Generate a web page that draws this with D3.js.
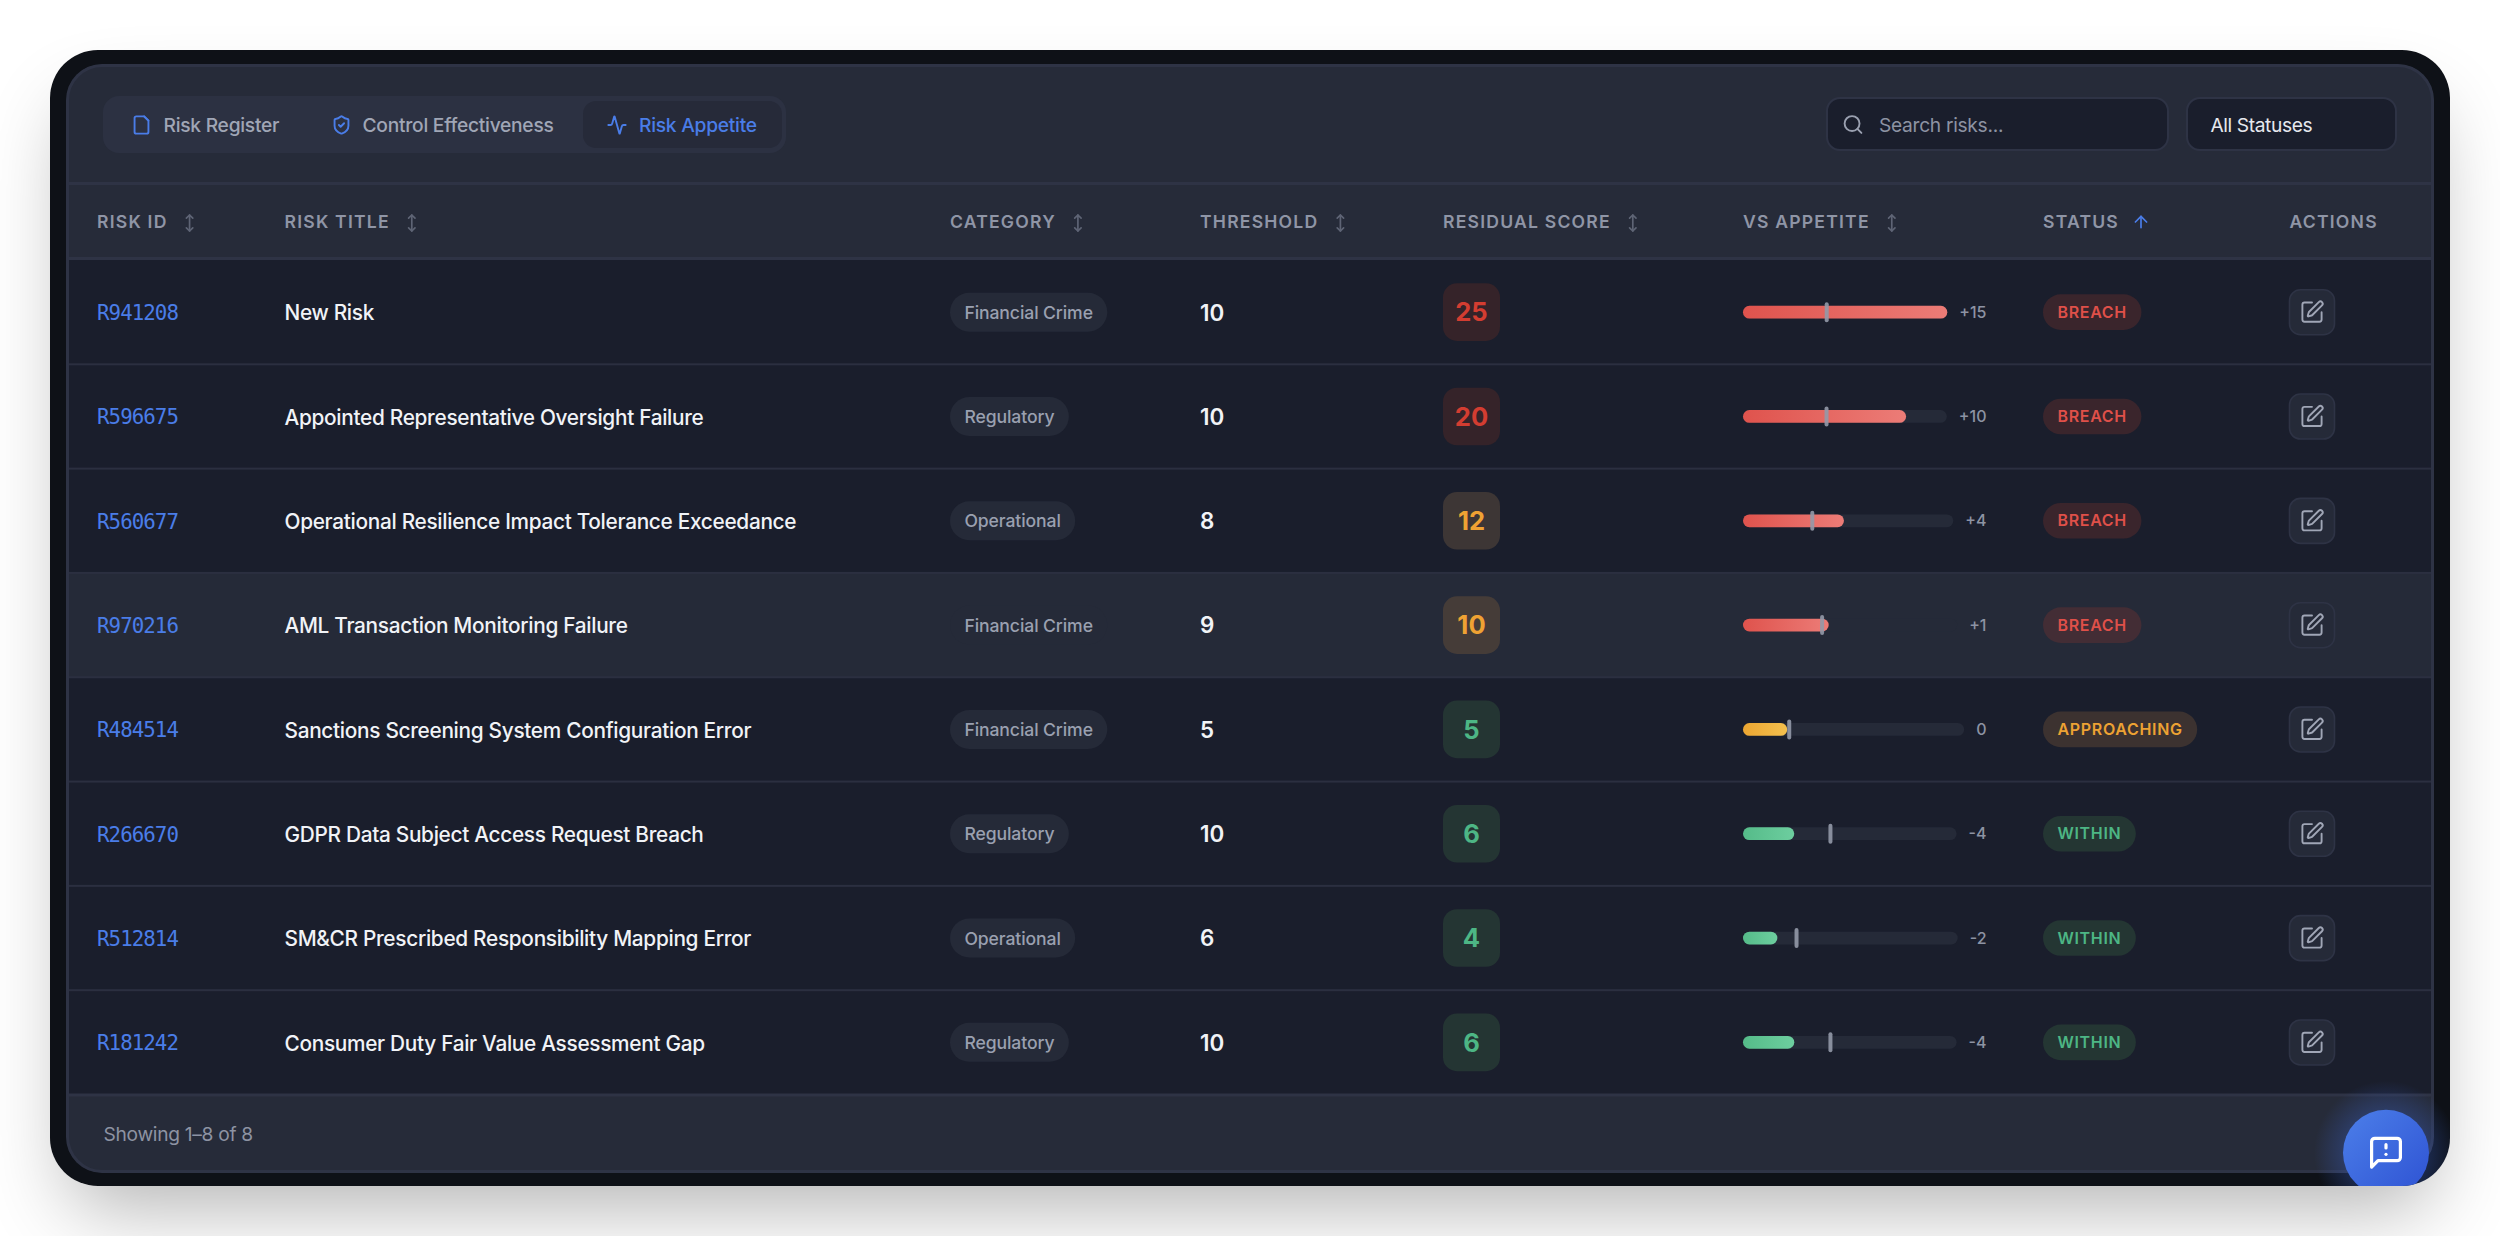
<!DOCTYPE html>
<html>
<head>
<meta charset="utf-8">
<title>Risk Appetite</title>
<script src="https://cdn.jsdelivr.net/npm/d3@7"></script>
<style>
  html, body { margin: 0; padding: 0; background: #fff; width: 2500px; height: 1236px; overflow: hidden; }
  #frame-shadow {
    position: absolute; left: 50px; top: 50px; width: 2400px; height: 1136px;
    border-radius: 48px; box-shadow: 0 40px 80px -19px rgba(0, 0, 0, 0.3);
  }
  svg { position: absolute; left: 0; top: 0; }
  text { font-family: Inter, "Noto Sans", sans-serif; }
  .icon path, .icon circle { fill: none; stroke-linecap: round; stroke-linejoin: round; }
</style>
</head>
<body>
<div id="frame-shadow"></div>
<svg id="chart" width="2500" height="1236"></svg>
<script>
// table values
const riskIds = ['R941208', 'R596675', 'R560677', 'R970216', 'R484514', 'R266670', 'R512814', 'R181242'];
const riskTitles = [
    'New Risk',
    'Appointed Representative Oversight Failure',
    'Operational Resilience Impact Tolerance Exceedance',
    'AML Transaction Monitoring Failure',
    'Sanctions Screening System Configuration Error',
    'GDPR Data Subject Access Request Breach',
    'SM&CR Prescribed Responsibility Mapping Error',
    'Consumer Duty Fair Value Assessment Gap'
];
const categories = ['Financial Crime', 'Regulatory', 'Operational', 'Financial Crime', 'Financial Crime', 'Regulatory', 'Operational', 'Regulatory'];
const thresholds = [10, 10, 8, 9, 5, 10, 6, 10];
const residualScores = [25, 20, 12, 10, 5, 6, 4, 6];
const statuses = ['BREACH', 'BREACH', 'BREACH', 'BREACH', 'APPROACHING', 'WITHIN', 'WITHIN', 'WITHIN'];
const scoreLevels = ['high', 'high', 'medium', 'medium', 'low', 'low', 'low', 'low'];
const columnLabels = ['RISK ID', 'RISK TITLE', 'CATEGORY', 'THRESHOLD', 'RESIDUAL SCORE', 'VS APPETITE', 'STATUS', 'ACTIONS'];
const tabLabels = ['Risk Register', 'Control Effectiveness', 'Risk Appetite'];
const scoreMax = 25;
const hoveredRow = 3;

const columnX = [97, 284.5, 950, 1200, 1443, 1743, 2043, 2289.5];
const tabX = [{ icon: 141.5, text: 163.5 }, { icon: 341.5, text: 362.5 }, { icon: 617, text: 639 }];

const palette = {
    frame: '#0e1117', panel: '#262b39', row: '#1a1e2c', hover: '#252a38', border: '#2e3345', rowLine: '#2b2f40',
    blue: '#4a7de8', white: '#f1f3f7', muted: '#8d93a3', head: '#8f95a6', track: '#252a38', marker: '#9499a8'
};
const scoreStyle = {
    high: { bg: '#352329', fg: '#d33d31' },
    medium: { bg: '#3d3635', fg: '#efa233' },
    low: { bg: '#243533', fg: '#4db685' }
};
const statusStyle = {
    BREACH: { bg: '#3a252c', fg: '#df5049', from: '#df534d', to: '#ec7c77' },
    APPROACHING: { bg: '#3c3230', fg: '#eda233', from: '#eca632', to: '#f4c04e' },
    WITHIN: { bg: '#243633', fg: '#4db685', from: '#55bb89', to: '#6dce9f' }
};

const icons = {
    file: ['M15 2H6a2 2 0 0 0-2 2v16a2 2 0 0 0 2 2h12a2 2 0 0 0 2-2V7Z', 'M15 2l5 5'],
    shield: ['M20 13c0 5-3.5 7.5-7.66 8.95a1 1 0 0 1-.67-.01C7.5 20.5 4 18 4 13V6a1 1 0 0 1 1-1c2 0 4.5-1.2 6.24-2.72a1.17 1.17 0 0 1 1.52 0C14.51 3.81 17 5 19 5a1 1 0 0 1 1 1z', 'm9 12 2 2 4-4'],
    activity: ['M22 12h-2.48a2 2 0 0 0-1.93 1.46l-2.35 8.36a.25.25 0 0 1-.48 0L9.24 2.18a.25.25 0 0 0-.48 0l-2.35 8.36A2 2 0 0 1 4.49 12H2'],
    search: ['M19 11a8 8 0 1 1-16 0a8 8 0 1 1 16 0', 'm21 21-4.3-4.3'],
    sort: ['M12 2v20', 'm8 18 4 4 4-4', 'm8 6 4-4 4 4'],
    up: ['m5 12 7-7 7 7', 'M12 19V5'],
    pen: ['M12 3H5a2 2 0 0 0-2 2v14a2 2 0 0 0 2 2h14a2 2 0 0 0 2-2v-7', 'M18.375 2.625a1 1 0 0 1 3 3l-9.013 9.014a2 2 0 0 1-.853.505l-2.873.84a.5.5 0 0 1-.62-.62l.84-2.873a2 2 0 0 1 .506-.852z'],
    message: ['M21 15a2 2 0 0 1-2 2H7l-4 4V5a2 2 0 0 1 2-2h14a2 2 0 0 1 2 2z', 'M12 7v2', 'M12 13h.01']
};

const svg = d3.select('#chart');
const defs = svg.append('defs');

function addGradient(id, from, to, x2, y2) {
    const g = defs.append('linearGradient').attr('id', id)
        .attr('x1', 0).attr('y1', 0).attr('x2', x2).attr('y2', y2);
    g.append('stop').attr('offset', 0).attr('stop-color', from);
    g.append('stop').attr('offset', 1).attr('stop-color', to);
}
Object.keys(statusStyle).forEach(k => addGradient('bar-' + k, statusStyle[k].from, statusStyle[k].to, 1, 0));
addGradient('fab-fill', '#4c7fe9', '#2e52d3', 1, 1);

const glow = defs.append('radialGradient').attr('id', 'fab-glow');
glow.append('stop').attr('offset', 0.55).attr('stop-color', '#3f6be0').attr('stop-opacity', 0.28);
glow.append('stop').attr('offset', 1).attr('stop-color', '#3f6be0').attr('stop-opacity', 0);

defs.append('clipPath').attr('id', 'outer-clip').append('rect')
    .attr('x', 50).attr('y', 50).attr('width', 2400).attr('height', 1136).attr('rx', 48);
defs.append('clipPath').attr('id', 'inner-clip').append('rect')
    .attr('x', 66).attr('y', 64).attr('width', 2368).attr('height', 1109).attr('rx', 36);

function drawIcon(parent, name, cx, cy, size, color, width) {
    const k = size / 24;
    const g = parent.append('g').attr('class', 'icon')
        .attr('transform', `translate(${cx - size / 2},${cy - size / 2}) scale(${k})`);
    g.selectAll('path').data(icons[name]).enter().append('path')
        .attr('d', d => d)
        .attr('stroke', color)
        .attr('stroke-width', width / k);
    return g;
}

const frame = svg.append('g').attr('clip-path', 'url(#outer-clip)');
frame.append('rect').attr('x', 50).attr('y', 50).attr('width', 2400).attr('height', 1136).attr('fill', palette.frame);

const panel = frame.append('g').attr('clip-path', 'url(#inner-clip)');
panel.append('rect').attr('x', 66).attr('y', 64).attr('width', 2368).attr('height', 1109).attr('fill', palette.panel);

// toolbar
panel.append('rect').attr('x', 103).attr('y', 96).attr('width', 683).attr('height', 57).attr('rx', 16).attr('fill', '#2c3142');
panel.append('rect').attr('x', 583).attr('y', 101).attr('width', 199).attr('height', 47).attr('rx', 13).attr('fill', '#262a39');

const tabIcons = ['file', 'shield', 'activity'];
tabLabels.forEach((label, i) => {
    const active = i === 2;
    drawIcon(panel, tabIcons[i], tabX[i].icon, 125, 20.8, palette.blue, 1.9);
    panel.append('text')
        .attr('x', tabX[i].text).attr('y', 125.5).attr('dy', '.35em')
        .attr('font-size', 19.2).attr('font-weight', 500).attr('letter-spacing', -0.25)
        .attr('fill', active ? palette.blue : '#a0a6b6')
        .text(label);
});

panel.append('rect').attr('x', 1827).attr('y', 98).attr('width', 341).attr('height', 52).attr('rx', 13)
    .attr('fill', palette.row).attr('stroke', palette.border).attr('stroke-width', 2);
drawIcon(panel, 'search', 1853, 124.5, 22.4, '#9aa0b0', 1.9);
panel.append('text').attr('x', 1879).attr('y', 125.5).attr('dy', '.35em')
    .attr('font-size', 19.2).attr('letter-spacing', -0.3).attr('fill', palette.muted).text('Search risks...');

panel.append('rect').attr('x', 2187).attr('y', 98).attr('width', 209).attr('height', 52).attr('rx', 13)
    .attr('fill', palette.row).attr('stroke', palette.border).attr('stroke-width', 2);
panel.append('text').attr('x', 2210.5).attr('y', 125.5).attr('dy', '.35em')
    .attr('font-size', 19.2).attr('letter-spacing', -0.4).attr('fill', '#e6e8ee').text('All Statuses');

panel.append('rect').attr('x', 66).attr('y', 182).attr('width', 2368).attr('height', 3).attr('fill', palette.border);

// header row
columnLabels.forEach((label, i) => {
    const t = panel.append('text')
        .attr('x', columnX[i]).attr('y', 222).attr('dy', '.35em')
        .attr('font-size', 17.6).attr('font-weight', 600).attr('letter-spacing', 1.2)
        .attr('fill', palette.head)
        .text(label);
    if (label === 'ACTIONS') return;
    const end = columnX[i] + t.node().getComputedTextLength();
    if (label === 'STATUS') drawIcon(panel, 'up', end + 22, 222, 19.2, palette.blue, 1.7);
    else drawIcon(panel, 'sort', end + 22, 223, 19.2, '#5e6475', 1.7);
});

// rows
const y = d3.scaleBand().domain(d3.range(riskIds.length)).range([260, 1094.5]);

panel.append('rect').attr('x', 66).attr('y', 258).attr('width', 2368).attr('height', y.range()[1] - 258).attr('fill', palette.row);
panel.append('rect').attr('x', 66).attr('y', y(hoveredRow)).attr('width', 2368).attr('height', y.bandwidth()).attr('fill', palette.hover);
panel.append('rect').attr('x', 66).attr('y', 257).attr('width', 2368).attr('height', 3).attr('fill', palette.border);

const rows = panel.selectAll('.row').data(d3.range(riskIds.length)).enter().append('g')
    .attr('class', 'row')
    .attr('transform', i => `translate(0,${y(i) + y.bandwidth() / 2})`);

panel.selectAll('.row-line').data(d3.range(riskIds.length)).enter().append('rect')
    .attr('class', 'row-line')
    .attr('x', 66).attr('width', 2368)
    .attr('y', i => y(i) + y.bandwidth() - 1)
    .attr('height', i => i === riskIds.length - 1 ? 3 : 2)
    .attr('fill', i => i === riskIds.length - 1 ? palette.border : palette.rowLine);

rows.append('text')
    .attr('x', columnX[0]).attr('y', 0.5).attr('dy', '.35em')
    .style('font-family', '"DejaVu Sans Mono", monospace')
    .attr('font-size', 20.8).attr('letter-spacing', -0.95).attr('fill', palette.blue)
    .text(i => riskIds[i]);

rows.append('text')
    .attr('x', columnX[1]).attr('y', 1).attr('dy', '.35em')
    .attr('font-size', 20.8).attr('font-weight', 500).attr('letter-spacing', -0.3).attr('fill', palette.white)
    .text(i => riskTitles[i]);

rows.each(function (i) {
    const row = d3.select(this);
    const hovered = i === hoveredRow;

    // category pill
    const pill = row.append('rect')
        .attr('x', columnX[2]).attr('y', -19.5).attr('height', 39).attr('rx', 19.5)
        .attr('fill', hovered ? palette.hover : '#252a38');
    const catText = row.append('text')
        .attr('x', columnX[2] + 14.4).attr('y', 0.5).attr('dy', '.35em')
        .attr('font-size', 17.6).attr('font-weight', 500).attr('letter-spacing', -0.1).attr('fill', '#9aa0b0')
        .text(categories[i]);
    pill.attr('width', catText.node().getComputedTextLength() + 28.8);

    // threshold
    row.append('text')
        .attr('x', columnX[3]).attr('y', 0.5).attr('dy', '.35em')
        .attr('font-size', 22.4).attr('font-weight', 600).attr('fill', palette.white)
        .text(thresholds[i]);

    // residual score badge
    const level = scoreStyle[scoreLevels[i]];
    row.append('rect')
        .attr('x', columnX[4]).attr('y', -28.8).attr('width', 57).attr('height', 57.6).attr('rx', 14)
        .attr('fill', hovered ? '#453c38' : level.bg);
    row.append('text')
        .attr('x', columnX[4] + 28.5).attr('dy', '.36em').attr('text-anchor', 'middle')
        .attr('font-size', 25.6).attr('font-weight', 700).attr('fill', level.fg)
        .text(residualScores[i]);

    // vs appetite bar, the track takes what the label leaves
    const diff = residualScores[i] - thresholds[i];
    const label = row.append('text')
        .attr('x', 1986.5).attr('dy', '.35em').attr('text-anchor', 'end')
        .attr('font-size', 16).attr('font-weight', 500).attr('fill', palette.muted)
        .text(diff > 0 ? '+' + diff : diff);
    const trackEnd = 1986.5 - label.node().getComputedTextLength() - 12;
    const x = d3.scaleLinear().domain([0, scoreMax]).range([columnX[5], trackEnd]);
    const style = statusStyle[statuses[i]];

    row.append('rect')
        .attr('x', x(0)).attr('y', -6.4).attr('width', x(scoreMax) - x(0)).attr('height', 12.8).attr('rx', 6.4)
        .attr('fill', palette.track);
    row.append('rect')
        .attr('x', x(0)).attr('y', -6.4).attr('width', x(residualScores[i]) - x(0)).attr('height', 12.8).attr('rx', 6.4)
        .attr('fill', `url(#bar-${statuses[i]})`);
    row.append('rect')
        .attr('x', x(thresholds[i])).attr('y', -10).attr('width', 4).attr('height', 20).attr('rx', 2)
        .attr('fill', palette.marker).attr('fill-opacity', 0.9);

    // status pill
    const statusPill = row.append('rect')
        .attr('x', columnX[6]).attr('y', -17.8).attr('height', 35.6).attr('rx', 17.8)
        .attr('fill', hovered ? '#432d35' : style.bg);
    const statusText = row.append('text')
        .attr('x', columnX[6] + 14.4).attr('dy', '.35em')
        .attr('font-size', 16).attr('font-weight', 600).attr('letter-spacing', 0.7).attr('fill', style.fg)
        .text(statuses[i]);
    statusPill.attr('width', statusText.node().getComputedTextLength() + 28.8);

    // edit button
    row.append('rect')
        .attr('x', columnX[7]).attr('y', -22.4).attr('width', 45).attr('height', 45).attr('rx', 11)
        .attr('fill', hovered ? palette.hover : '#252a38').attr('stroke', palette.border).attr('stroke-width', 1.6);
    drawIcon(row, 'pen', columnX[7] + 22.5, 0, 25.6, '#a0a6b6', 1.9);
});

// footer
panel.append('text').attr('x', 103.5).attr('y', 1134.5).attr('dy', '.35em')
    .attr('font-size', 19.2).attr('letter-spacing', -0.3).attr('fill', palette.muted).text('Showing 1–8 of 8');

panel.append('rect').attr('x', 67.5).attr('y', 65.5).attr('width', 2365).attr('height', 1106).attr('rx', 35)
    .attr('fill', 'none').attr('stroke', palette.border).attr('stroke-width', 3);

// floating button, cut off by the frame
frame.append('circle').attr('cx', 2386).attr('cy', 1152.7).attr('r', 72).attr('fill', 'url(#fab-glow)');
frame.append('circle').attr('cx', 2386).attr('cy', 1152.7).attr('r', 43).attr('fill', 'url(#fab-fill)');
drawIcon(frame, 'message', 2386, 1152.7, 38.4, '#ffffff', 3.2);
</script>
</body>
</html>
